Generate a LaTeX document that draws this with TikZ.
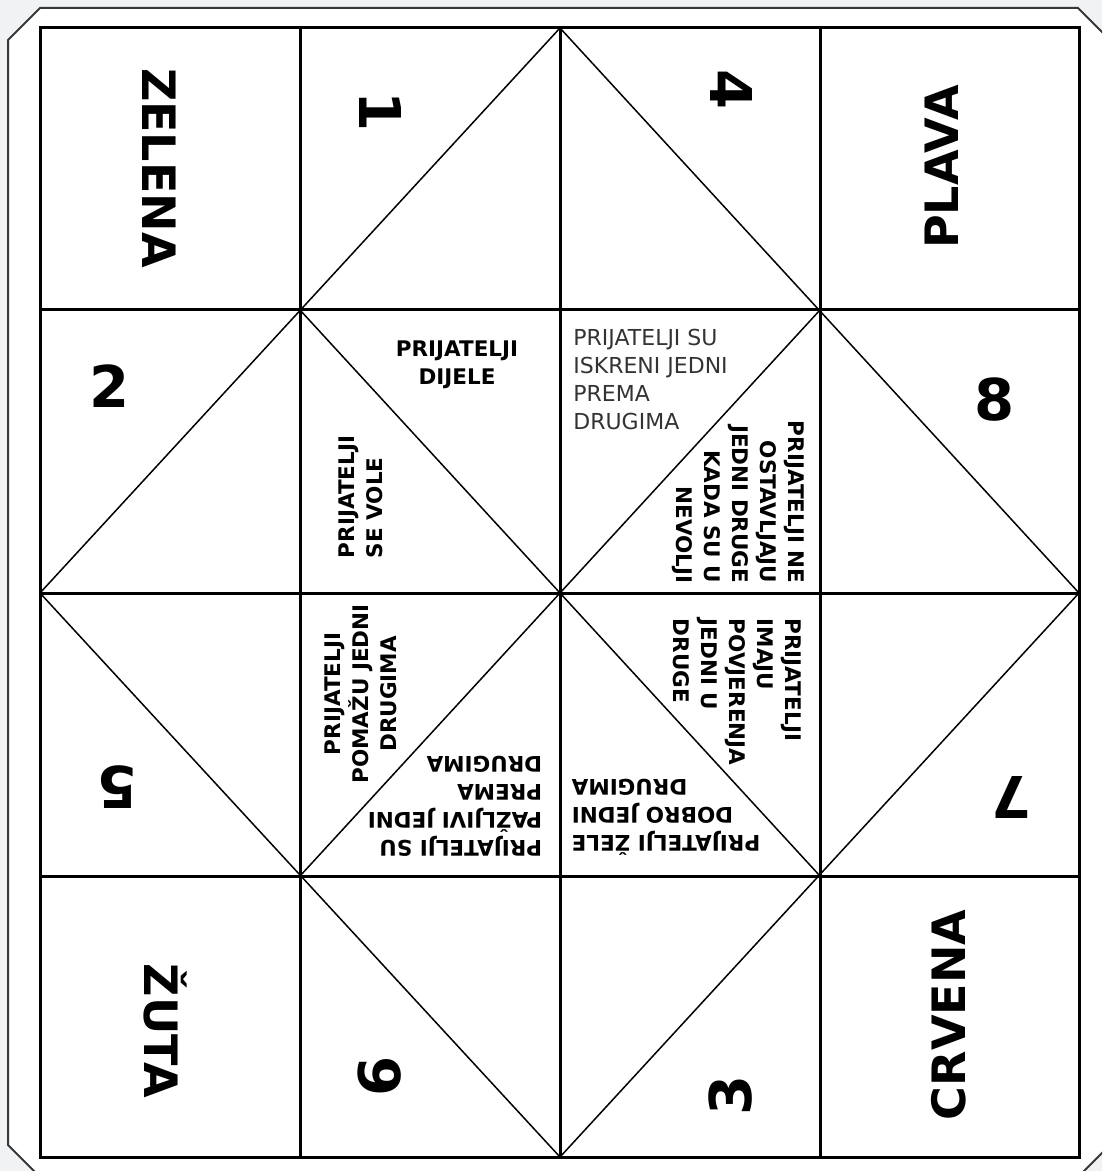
\documentclass[tikz,border=0pt]{standalone}
\usepackage{fontspec}
\setmainfont{DejaVu Sans}
\usepackage{xcolor}
\definecolor{pagegray}{RGB}{241,242,244}
\definecolor{framegray}{RGB}{55,55,55}
\usepackage{tikz}
\usetikzlibrary{calc}
\tikzset{
  gridline/.style = {line width=1.5pt, draw=black},
  foldline/.style = {line width=0.75pt, draw=black},
  colour/.style   = {font=\bfseries\fontsize{23}{27}\selectfont, inner sep=0pt, text height=0.73em, text depth=0pt},
  number/.style   = {font=\bfseries\fontsize{28.8}{32}\selectfont, inner sep=0pt},
  msg/.style      = {font=\bfseries\fontsize{10.75}{14}\selectfont, inner sep=0pt},
  msgthin/.style  = {font=\fontsize{11}{14}\selectfont, inner sep=0pt, text=black!80},
}

\begin{document}
\begin{tikzpicture}[x=0.5pt, y=-0.5pt]
    % ── Page and cut-out frame ──────────────────────────────────
    \useasboundingbox (0,0) rectangle (1102,1171);
    \clip (0,0) rectangle (1102,1171);
    \fill[pagegray] (0,0) rectangle (1102,1171);
    \draw[framegray, line width=1pt, fill=white]
      (8,40) -- (40,8) -- (1078,8) -- (1110,40) -- (1110,1145)
      -- (1078,1177) -- (40,1177) -- (8,1145) -- cycle;

    % ── Grid points ─────────────────────────────────────────────
    \coordinate (nw) at (40,28);     \coordinate (ne) at (1079,28);
    \coordinate (sw) at (40,1157);   \coordinate (se) at (1079,1157);
    \coordinate (top) at (560,28);   \coordinate (bottom) at (560,1157);
    \coordinate (left) at (40,593);  \coordinate (right) at (1079,593);
    \coordinate (inw) at (300,310);  \coordinate (ine) at (820,310);
    \coordinate (isw) at (300,876);  \coordinate (ise) at (820,876);

    % ── Folds: outer diamond and centre cross ───────────────────
    \draw[foldline] (top) -- (right) -- (bottom) -- (left) -- cycle;
    \draw[foldline] (inw) -- (ise);
    \draw[foldline] (ine) -- (isw);

    % ── Cell grid ───────────────────────────────────────────────
    \draw[gridline] (nw) rectangle (se);
    \draw[gridline] (300,28) -- (300,1157);
    \draw[gridline] (top) -- (bottom);
    \draw[gridline] (820,28) -- (820,1157);
    \draw[gridline] (40,310) -- (1079,310);
    \draw[gridline] (left) -- (right);
    \draw[gridline] (40,876) -- (1079,876);

    % ── Colours in the corners ──────────────────────────────────
    \node[colour, rotate=-90] (zelena) at (150,168)  {ZELENA};
    \node[colour, rotate=90]  (plava)  at (951,167)  {PLAVA};
    \node[colour, rotate=-90] (zuta)   at (152,1031) {ŽUTA};
    \node[colour, rotate=90]  (crvena) at (958,1015) {CRVENA};

    % ── Numbers on the outer flaps ──────────────────────────────
    \node[number, rotate=-90] (n1) at (380,112)  {1};
    \node[number, rotate=-90] (n4) at (731,90)   {4};
    \node[number]             (n2) at (110,386)  {2};
    \node[number]             (n8) at (995,400)  {8};
    \node[number, rotate=180] (n5) at (117,787)  {5};
    \node[number, rotate=180] (n7) at (1011,797) {7};
    \node[number, rotate=90]  (n6) at (380,1076) {6};
    \node[number, rotate=90]  (n3) at (731,1095) {3};

    % ── Messages inside ─────────────────────────────────────────
    \node[msg, align=center] (dijele) at (457,365) {PRIJATELJI\\DIJELE};
    \node[msg, rotate=90, align=left] (vole) at (361,497) {PRIJATELJI\\SE VOLE};
    \node[msgthin, align=left, anchor=north west] (iskreni) at (573,329)
      {PRIJATELJI SU\\ISKRENI JEDNI\\PREMA\\DRUGIMA};
    \node[msg, rotate=-90, align=right] (nevolji) at (738,502)
      {PRIJATELJI NE\\OSTAVLJAJU\\JEDNI DRUGE\\KADA SU U\\NEVOLJI};
    \node[msg, rotate=90, align=center] (pomazu) at (361,694)
      {PRIJATELJI\\POMAŽU JEDNI\\DRUGIMA};
    \node[msg, rotate=180, align=left] (pazljivi) at (455,806)
      {PRIJATELJI SU\\PAŽLJIVI JEDNI\\PREMA\\DRUGIMA};
    \node[msg, rotate=-90, align=left] (imaju) at (737,692)
      {PRIJATELJI\\IMAJU\\POVJERENJA\\JEDNI U\\DRUGE};
    \node[msg, rotate=180, align=right] (zele) at (666,817)
      {PRIJATELJI ŽELE\\DOBRO JEDNI\\DRUGIMA};
\end{tikzpicture}
\end{document}
